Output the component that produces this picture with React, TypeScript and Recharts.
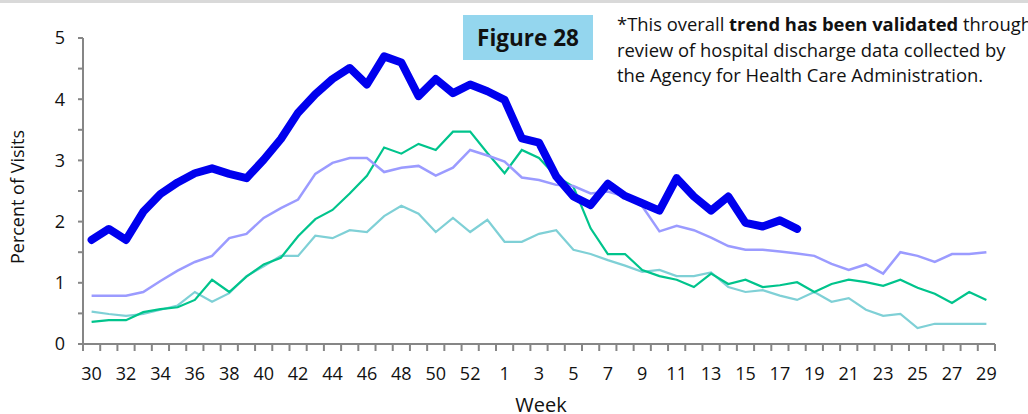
import React from "react";
import { LineChart, Line, XAxis, YAxis } from "recharts";

const weeks = [
  "30","31","32","33","34","35","36","37","38","39","40","41","42","43","44","45","46","47","48","49","50","51","52","53",
  "1","2","3","4","5","6","7","8","9","10","11","12","13","14","15","16","17","18","19","20","21","22","23","24","25","26","27","28","29",
];

const currentSeason: (number | null)[] = [
  1.70,1.88,1.70,2.16,2.45,2.64,2.79,2.87,2.78,2.71,3.01,3.35,3.78,4.08,4.33,4.51,4.24,4.70,4.60,4.05,4.33,4.10,4.24,4.13,
  3.99,3.36,3.29,2.74,2.41,2.27,2.62,2.42,2.30,2.18,2.71,2.41,2.18,2.41,1.98,1.92,2.02,1.88,
  null,null,null,null,null,null,null,null,null,null,null,
];

const seasonA = [
  0.79,0.79,0.79,0.85,1.03,1.20,1.34,1.44,1.73,1.80,2.06,2.22,2.36,2.78,2.96,3.04,3.04,2.81,2.88,2.91,2.75,2.88,3.17,3.08,
  2.98,2.72,2.68,2.60,2.58,2.46,2.49,2.41,2.25,1.84,1.93,1.86,1.74,1.60,1.54,1.54,1.51,1.48,1.44,1.31,1.21,1.30,1.15,1.50,1.44,1.34,1.47,1.47,1.50,
];

const seasonB = [
  0.36,0.39,0.39,0.52,0.57,0.60,0.72,1.05,0.85,1.10,1.30,1.41,1.76,2.04,2.19,2.46,2.75,3.21,3.11,3.27,3.17,3.47,3.47,3.12,
  2.79,3.17,3.04,2.74,2.57,1.89,1.47,1.47,1.21,1.11,1.05,0.93,1.15,0.98,1.05,0.93,0.96,1.01,0.85,0.98,1.05,1.01,0.95,1.05,0.92,0.82,0.67,0.85,0.72,
];

const seasonC = [
  0.53,0.49,0.46,0.49,0.56,0.63,0.85,0.69,0.83,1.11,1.27,1.44,1.44,1.77,1.73,1.86,1.83,2.09,2.26,2.13,1.83,2.06,1.83,2.03,
  1.67,1.67,1.80,1.86,1.54,1.47,1.37,1.28,1.18,1.21,1.11,1.11,1.17,0.93,0.85,0.88,0.79,0.72,0.85,0.69,0.75,0.56,0.46,0.49,0.26,0.33,0.33,0.33,0.33,
];

const yTicks = [0, 0.5, 1, 1.5, 2, 2.5, 3, 3.5, 4, 4.5, 5];

const data = weeks.map((w, i) => ({
  week: w,
  cur: currentSeason[i],
  a: seasonA[i],
  b: seasonB[i],
  c: seasonC[i],
}));

const W = 1028;
const H = 414;
const M = { top: 38, right: 33, left: 0, bottom: 30 };
const Y_W = 83;
const PLOT_W = W - M.left - M.right - Y_W;
const BW = PLOT_W / weeks.length;
const AXIS = "#868686";
const FONT = "'Open Sans', 'DejaVu Sans', sans-serif";

const XTick = (props: any) => {
  const { x, y, payload, index } = props;
  const last = index === weeks.length - 1;
  return (
    <g>
      <line x1={x - BW / 2} x2={x - BW / 2} y1={y} y2={y + 7} stroke={AXIS} strokeWidth={2} />
      {last && <line x1={x + BW / 2} x2={x + BW / 2} y1={y} y2={y + 7} stroke={AXIS} strokeWidth={2} />}
      {index % 2 === 0 && (
        <text x={x} y={y + 36} textAnchor="middle" fontSize={18} fontFamily={FONT} fill="#111">
          {payload.value}
        </text>
      )}
    </g>
  );
};

export default function App() {
  return (
    <div style={{ position: "absolute", left: 0, top: 0, width: W, height: H, background: "#fff", overflow: "hidden" }}>
      <div style={{ position: "absolute", left: 0, top: 0, width: W, height: 3, background: "#d9d9d9" }} />
      <LineChart width={W} height={H} data={data} margin={M}>
        <XAxis
          dataKey="week"
          interval={0}
          tickSize={0}
          tickMargin={0}
          tickLine={false}
          padding={{ left: BW / 2, right: BW / 2 }}
          axisLine={{ stroke: AXIS, strokeWidth: 2 }}
          tick={<XTick />}
          height={40}
          label={{
            content: () => (
              <text x={541} y={412} textAnchor="middle" fontSize={20} fontFamily={FONT} fill="#111">
                Week
              </text>
            ),
          }}
        />
        <YAxis
          type="number"
          domain={[0, 5]}
          ticks={yTicks}
          interval={0}
          width={Y_W}
          tickSize={5}
          tickMargin={13}
          tickFormatter={(v: number) => (Number.isInteger(v) ? String(v) : "")}
          tick={{ fontSize: 18, fontFamily: FONT, fill: "#111" }}
          axisLine={{ stroke: AXIS, strokeWidth: 2 }}
          tickLine={{ stroke: AXIS, strokeWidth: 2 }}
          label={{
            content: () => (
              <text
                x={17}
                y={197}
                transform="rotate(-90 17 197)"
                textAnchor="middle"
                dominantBaseline="central"
                fontSize={18}
                fontFamily={FONT}
                fill="#111"
              >
                Percent of Visits
              </text>
            ),
          }}
        />
        <Line dataKey="c" stroke="#7fd0d6" strokeWidth={2.2} dot={false} isAnimationActive={false} />
        <Line dataKey="b" stroke="#00c48c" strokeWidth={2.2} dot={false} isAnimationActive={false} />
        <Line dataKey="a" stroke="#9b9bff" strokeWidth={2.5} dot={false} isAnimationActive={false} />
        <Line
          dataKey="cur"
          stroke="#0000ee"
          strokeWidth={8}
          strokeLinejoin="round"
          strokeLinecap="round"
          dot={false}
          connectNulls={false}
          isAnimationActive={false}
        />
      </LineChart>
      <div
        style={{
          position: "absolute",
          left: 463,
          top: 15,
          width: 130,
          height: 45,
          background: "#94d6ee",
          display: "flex",
          alignItems: "center",
          justifyContent: "center",
          fontFamily: FONT,
          fontWeight: 700,
          fontSize: 22.5,
          color: "#111",
        }}
      >
        Figure 28
      </div>
      <div
        style={{
          position: "absolute",
          left: 617,
          top: 11,
          width: 460,
          fontFamily: FONT,
          fontSize: 18.4,
          lineHeight: "25.5px",
          color: "#111",
          whiteSpace: "nowrap",
        }}
      >
        <div>
          *This overall <b>trend has been validated</b> through
        </div>
        <div>review of hospital discharge data collected by</div>
        <div>the Agency for Health Care Administration.</div>
      </div>
    </div>
  );
}
